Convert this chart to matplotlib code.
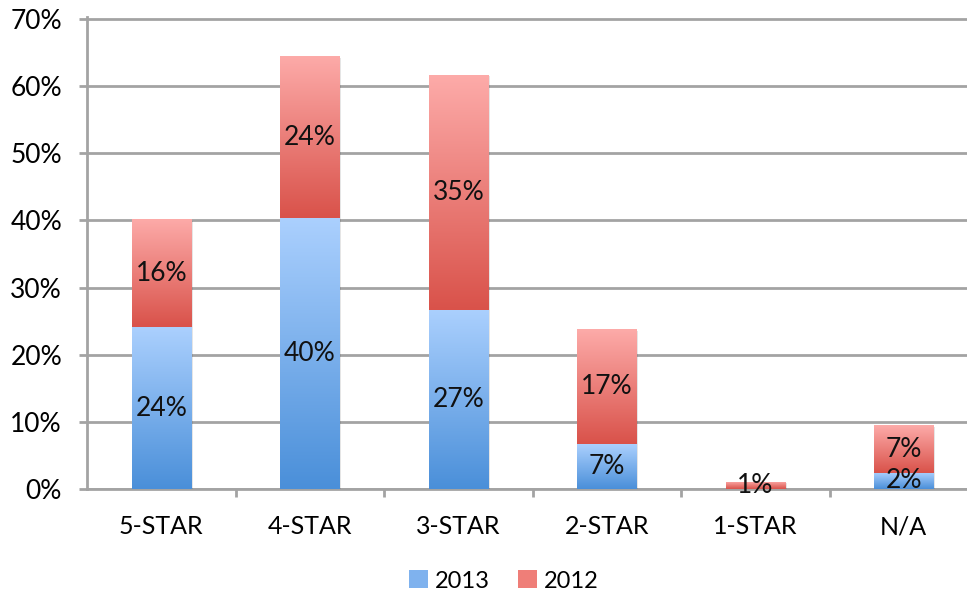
import numpy as np
import matplotlib
matplotlib.use('Agg')
from matplotlib import pyplot as plt
from matplotlib.colors import LinearSegmentedColormap
from matplotlib.patches import Patch

plt.rcParams['font.family'] = ['Lato', 'DejaVu Sans']

categories = ['5-STAR', '4-STAR', '3-STAR', '2-STAR', '1-STAR', 'N/A']
share_2013 = [24.1, 40.3, 26.7, 6.7, 0.0, 2.4]
share_2012 = [16.1, 24.2, 35.0, 17.1, 1.1, 7.1]
labels_2013 = ['24%', '40%', '27%', '7%', '', '2%']
labels_2012 = ['16%', '24%', '35%', '17%', '1%', '7%']

blue_cmap = LinearSegmentedColormap.from_list('b', ['#4a8fd9', '#abd0fe'])
red_cmap = LinearSegmentedColormap.from_list('r', ['#d9524a', '#fdaba9'])
grey = '#a3a3a3'

fig = plt.figure(figsize=(9.67, 5.95), dpi=100)
ax = fig.add_axes([87/967, 106/595, 880/967, 472/595])

x = np.arange(len(categories))
width = 0.40
grad = np.linspace(0, 1, 256).reshape(-1, 1)

def gradient_bars(bars, cmap):
    for b in bars:
        if b.get_height() <= 0:
            continue
        x0, y0 = b.get_x(), b.get_y()
        # soft shadow on the right/bottom
        ax.bar(x0 + b.get_width()/2 + 0.012, b.get_height(), width,
               bottom=y0 - 0.25, color='black', alpha=0.10, zorder=1.5)
        im = ax.imshow(grad, cmap=cmap, origin='lower', aspect='auto',
                       extent=[x0, x0 + b.get_width(), y0, y0 + b.get_height()],
                       zorder=2, interpolation='bilinear')
        im.set_clip_path(b)

bars13 = ax.bar(x, share_2013, width, color='none', zorder=2)
bars12 = ax.bar(x, share_2012, width, bottom=share_2013, color='none', zorder=2)
gradient_bars(bars13, blue_cmap)
gradient_bars(bars12, red_cmap)

lab_kw = dict(ha='center', va='center', fontsize=19, color='#111111', zorder=5)
for i in range(len(categories)):
    if labels_2013[i]:
        ax.text(x[i], share_2013[i]/2, labels_2013[i], **lab_kw)
    if labels_2012[i]:
        ax.text(x[i], share_2013[i] + share_2012[i]/2, labels_2012[i], **lab_kw)

ax.set_xlim(-0.5, -0.5 + 880/148.5)
ax.set_ylim(0, 70.3)
ax.set_yticks(np.arange(0, 71, 10))
ax.set_yticklabels([f'{v}%' for v in range(0, 71, 10)])
ax.set_xticks(x)
ax.set_xticklabels(categories)
ax.set_xticks(x[:-1] + 0.5, minor=True)

ax.grid(axis='y', color=grey, linewidth=2, zorder=0)
ax.set_axisbelow(True)
for s in ['top', 'right']:
    ax.spines[s].set_visible(False)
for s in ['left', 'bottom']:
    ax.spines[s].set_color(grey)
    ax.spines[s].set_linewidth(2)
    ax.spines[s].set_zorder(1)

ax.tick_params(axis='y', length=6, width=2, color=grey, pad=12, labelsize=19)
ax.tick_params(axis='x', which='major', length=0, pad=19, labelsize=18)
ax.tick_params(axis='x', which='minor', length=6, width=2, color=grey)

handles = [Patch(facecolor='#7fb2ee', label='2013'),
           Patch(facecolor='#ef7e78', label='2012')]
fig.legend(handles=handles, loc='center', bbox_to_anchor=(504/967, 14/595),
           ncol=2, frameon=False, fontsize=17, handlelength=0.8, handleheight=0.8,
           handletextpad=0.3, columnspacing=1.2)

fig.savefig('out.png', dpi=100)
